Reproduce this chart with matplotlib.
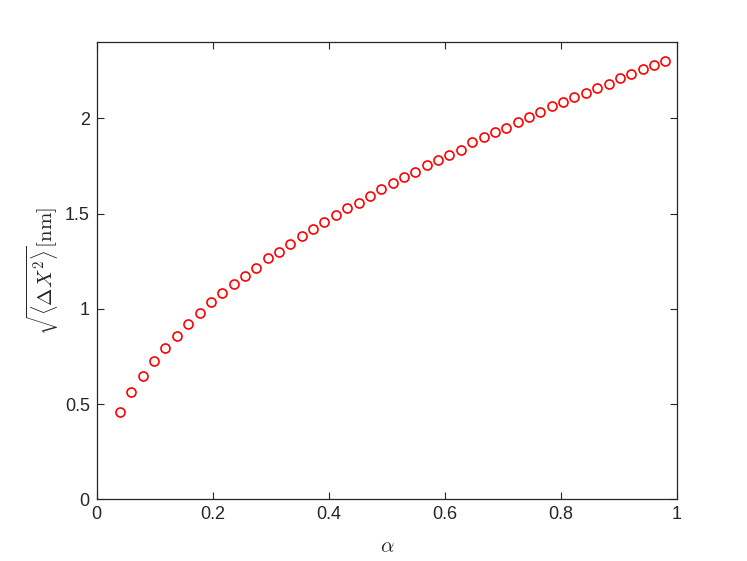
"""Red open-circle scatter of sqrt(<dX^2>) against alpha, MATLAB look."""

import matplotlib
matplotlib.use('Agg')
import matplotlib.pyplot as plt

# alpha values (x)
ALPHA = [
    0.0400, 0.0596, 0.0792, 0.0988, 0.1183, 0.1379, 0.1575, 0.1771, 0.1967,
    0.2163, 0.2358, 0.2554, 0.2750, 0.2946, 0.3142, 0.3337, 0.3533, 0.3729,
    0.3925, 0.4121, 0.4317, 0.4513, 0.4708, 0.4904, 0.5100, 0.5296, 0.5492,
    0.5688, 0.5883, 0.6079, 0.6275, 0.6471, 0.6667, 0.6863, 0.7058, 0.7254,
    0.7450, 0.7646, 0.7842, 0.8038, 0.8233, 0.8429, 0.8625, 0.8821, 0.9017,
    0.9212, 0.9408, 0.9604, 0.9800,
]
# sqrt(<dX^2>) in nm (y)
RMS_DX = [
    0.458, 0.564, 0.648, 0.724, 0.795, 0.858, 0.921, 0.977, 1.033,
    1.082, 1.131, 1.173, 1.214, 1.264, 1.298, 1.340, 1.382, 1.417,
    1.453, 1.494, 1.529, 1.557, 1.592, 1.627, 1.662, 1.690, 1.718,
    1.753, 1.781, 1.809, 1.835, 1.874, 1.901, 1.930, 1.951, 1.978,
    2.006, 2.034, 2.062, 2.084, 2.111, 2.132, 2.161, 2.182, 2.209,
    2.231, 2.258, 2.279, 2.300,
]
XTICKS = [0, 0.2, 0.4, 0.6, 0.8, 1]
XTICK_LABELS = ["0", "0.2", "0.4", "0.6", "0.8", "1"]
YTICKS = [0, 0.5, 1, 1.5, 2]
YTICK_LABELS = ["0", "0.5", "1", "1.5", "2"]

plt.rcParams['font.family'] = ['Liberation Sans', 'DejaVu Sans']
plt.rcParams['mathtext.fontset'] = 'cm'

AX_COLOR = '#262626'

fig = plt.figure(figsize=(7.47, 5.61), dpi=100)
ax = fig.add_axes([0.1295, 0.110, 0.7768, 0.815])

ax.plot(ALPHA, RMS_DX, linestyle='none', marker='o', markersize=6.5,
        markerfacecolor='none', markeredgecolor='red', markeredgewidth=1.2)

ax.set_xlim(0, 1)
ax.set_ylim(0, 2.4)
ax.set_xticks(XTICKS)
ax.set_xticklabels(XTICK_LABELS)
ax.set_yticks(YTICKS)
ax.set_yticklabels(YTICK_LABELS)

ax.tick_params(direction='in', length=5, width=0.8, colors=AX_COLOR,
               labelsize=13, top=True, right=True, pad=5)
for spine in ax.spines.values():
    spine.set_color(AX_COLOR)
    spine.set_linewidth(0.9)

ax.set_xlabel(r'$\alpha$', fontsize=15, color=AX_COLOR, labelpad=10)
ax.set_ylabel(r'$\sqrt{\langle \Delta X^2 \rangle}[\mathrm{nm}]$',
              fontsize=15, color=AX_COLOR, labelpad=3)

fig.savefig('out.png', dpi=100)
plt.close(fig)
